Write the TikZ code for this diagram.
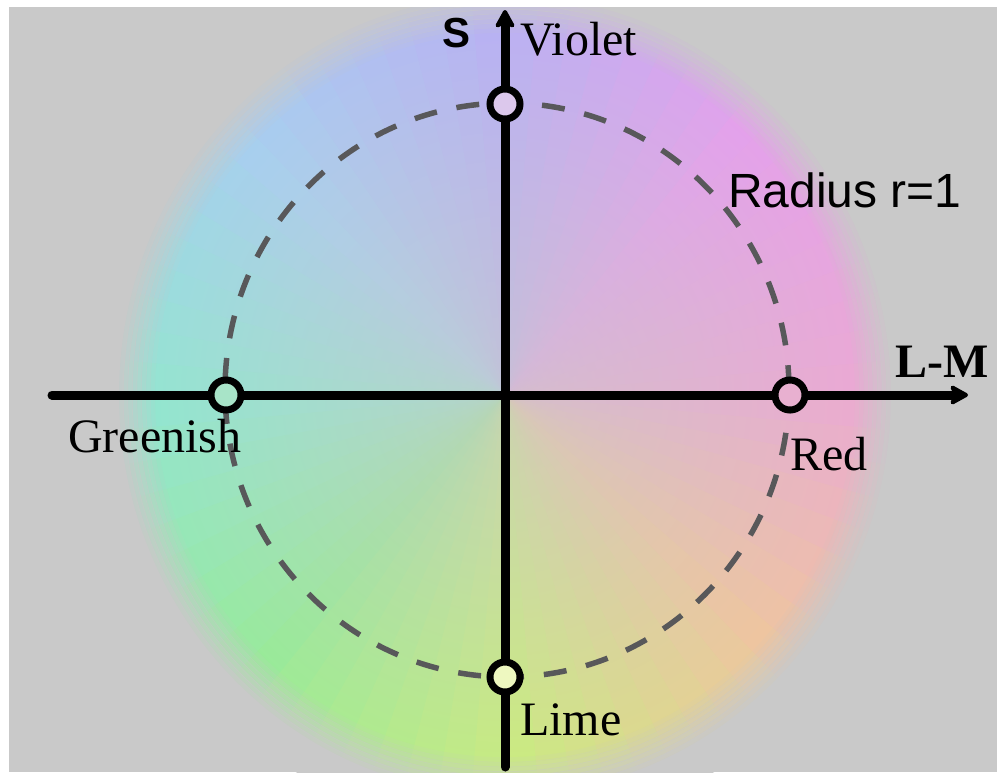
\documentclass[tikz,border=0pt]{standalone}
\usepackage{fontspec}
\setmainfont{Liberation Serif}
\setsansfont{Liberation Sans}
\usetikzlibrary{arrows.meta,fadings}
\definecolor{bg}{HTML}{C9C9C9}
\definecolor{k0}{HTML}{F4A0D8}
\definecolor{k1}{HTML}{EC96F6}
\definecolor{k2}{HTML}{B4ACFF}
\definecolor{k3}{HTML}{9ED2FA}
\definecolor{k4}{HTML}{84EED2}
\definecolor{k5}{HTML}{8CF48C}
\definecolor{k6}{HTML}{CCF46E}
\definecolor{k7}{HTML}{FAC494}
\definecolor{dashgray}{HTML}{58585A}
\definecolor{fviolet}{HTML}{DCC8EC}
\definecolor{fred}{HTML}{E8B0D0}
\definecolor{fgreen}{HTML}{A8E4C8}
\definecolor{flime}{HTML}{EEF8C0}
\pgfdeclareradialshading{cfadeS}{\pgfpointorigin}{color(0bp)=(black!28); color(10bp)=(black!48); color(22bp)=(black!78); color(33bp)=(black!100); color(50bp)=(black!100)}
\pgfdeclarefading{cfade}{\pgfuseshading{cfadeS}}
\tikzset{
  axisline/.style={line width=9pt, line cap=round},
  axisarrow/.style={axisline, -{Stealth[length=22pt, width=24pt, inset=6pt, round]}},
  dashline/.style={draw=dashgray, line width=5.5pt, dash pattern=on 23pt off 20pt},
  marker/.style={circle, draw=black, line width=7pt, minimum size=30pt, inner sep=0pt},
  serlbl/.style={anchor=base west, inner sep=0pt, font=\fontsize{48}{56}\selectfont},
  sanlbl/.style={anchor=base west, inner sep=0pt, font=\sffamily\fontsize{48}{56}\selectfont}
}
\begin{document}
\begin{tikzpicture}[x=1pt,y=-1pt]
\useasboundingbox (0,0) rectangle (997,772);
\fill[white] (0,0) rectangle (997,772);
\fill[bg] (9,7) rectangle (997,772);
\begin{scope}
\clip (9,7) rectangle (997,772);
\begin{scope}[shift={(505,395)}, yscale=-1.035]
\foreach \i/\ca/\cb in {0/k0/k1,1/k1/k2,2/k2/k3,3/k3/k4,4/k4/k5,5/k5/k6,6/k6/k7,7/k7/k0} {
  \foreach \j in {0,...,8} {
    \pgfmathtruncatemacro\p{100-\j*100/9}
    \pgfmathsetmacro\a{\i*45+\j*5}
    \fill[color=\ca!\p!\cb] (0,0) -- (\a:400) arc[start angle=\a, end angle=\a+5.6, radius=400] -- cycle;
  }
}
\fill[bg, path fading=cfade] (0,0) circle[radius=400];
% soft edge
\foreach \k in {0,...,7} {
  \pgfmathsetmacro\ri{350+\k*4.5}
  \pgfmathsetmacro\ro{355+\k*4.5}
  \pgfmathsetmacro\op{(\k+1)/9}
  \fill[bg, fill opacity=\op, even odd rule] (0,0) circle[radius=\ro] (0,0) circle[radius=\ri];
}
\fill[bg, even odd rule] (0,0) circle[radius=420] (0,0) circle[radius=386];
\end{scope}
\end{scope}
% dashed unit circle
\draw[dashline] (507,390) ellipse [x radius=282, y radius=287];
% axes
\coordinate (xl) at (52,395);
\coordinate (xr) at (968,395);
\coordinate (yb) at (505,767);
\coordinate (yt) at (505,10);
\draw[axisarrow] (xl) -- (xr);
\draw[axisarrow] (yb) -- (yt);
% markers
\node[marker, fill=fviolet] (mv) at (505,104) {};
\node[marker, fill=fred] (mr) at (790,395) {};
\node[marker, fill=fgreen] (mg) at (226,395) {};
\node[marker, fill=flime] (ml) at (505,677) {};
% labels
\node[anchor=base west, inner sep=0pt, font=\sffamily\bfseries\fontsize{42}{50}\selectfont] (ls) at (442,47) {S};
\node[serlbl] (lv) at (520,55) {Violet};
\node[serlbl] (lg) at (68,452) {Greenish};
\node[serlbl] (lr) at (790,470) {Red};
\node[serlbl] (ll) at (520,735) {Lime};
\node[serlbl, font=\bfseries\fontsize{48}{56}\selectfont] (llm) at (895,377) {L-M};
\node[sanlbl] (lrad) at (728,207) {Radius r=1};
\end{tikzpicture}
\end{document}
